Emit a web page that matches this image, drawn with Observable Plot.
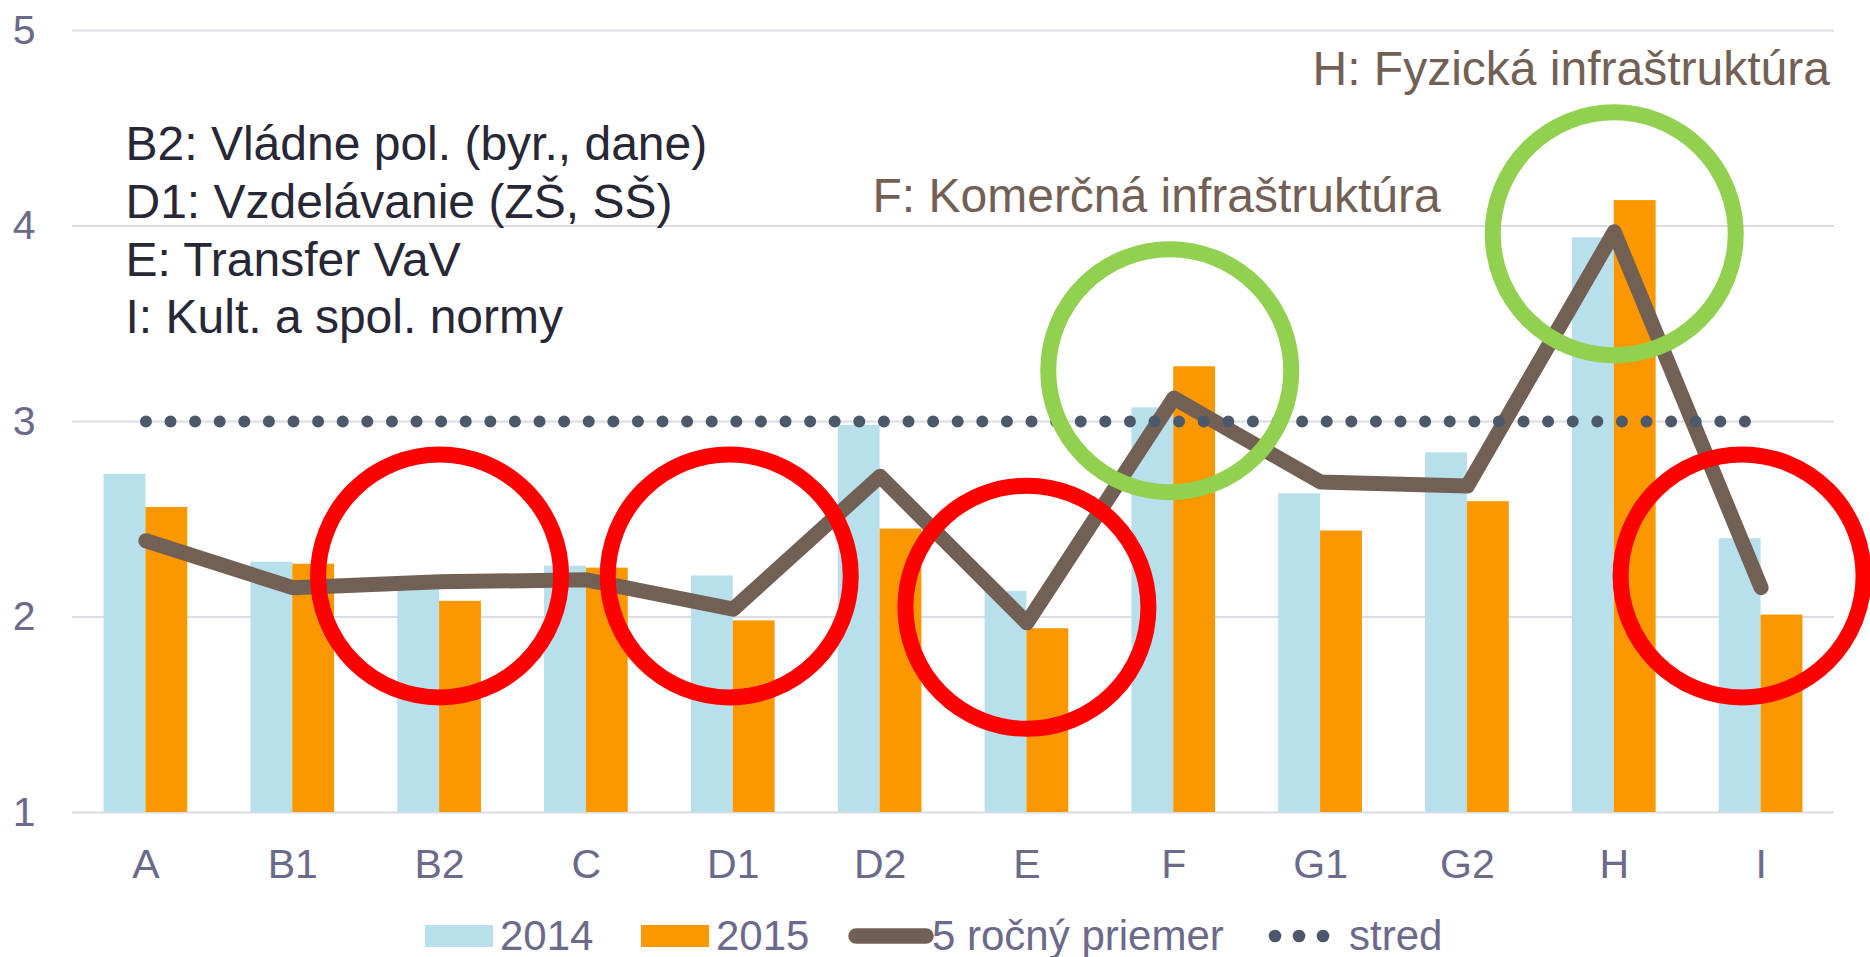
<!DOCTYPE html>
<html>
<head>
<meta charset="utf-8">
<script src="https://cdn.jsdelivr.net/npm/d3@7"></script>
<script src="https://cdn.jsdelivr.net/npm/@observablehq/plot@0.6"></script>
<style>
  html, body { margin: 0; padding: 0; background: #ffffff; overflow: hidden; }
  body { width: 1870px; height: 957px; font-family: "Liberation Sans", Arial, sans-serif; }
  #legend { position: relative; width: 1870px; height: 52px; }
  #legend .t { position: absolute; top: 10px; line-height: 42px; font-size: 42px; color: #6b6a8a; white-space: nowrap; }
  #legend svg { position: absolute; }
</style>
</head>
<body>
<div id="chart"></div>
<div id="legend"></div>
<script>
// ---- data ----
const categories = ["A", "B1", "B2", "C", "D1", "D2", "E", "F", "G1", "G2", "H", "I"];
const series2014 = [2.73, 2.28, 2.17, 2.26, 2.21, 2.98, 2.13, 3.07, 2.63, 2.84, 3.94, 2.40];
const series2015 = [2.56, 2.27, 2.08, 2.25, 1.98, 2.45, 1.94, 3.28, 2.44, 2.59, 4.13, 2.01];
const avg5 = [2.39, 2.15, 2.18, 2.19, 2.04, 2.72, 1.97, 3.12, 2.69, 2.67, 3.97, 2.15];
const stred = [3, 3, 3, 3, 3, 3, 3, 3, 3, 3, 3, 3];
const yTicks = [1, 2, 3, 4, 5];
const seriesNames = ["2014", "2015", "5 ročný priemer", "stred"];

// highlighted categories (circles): category and centre value
const redCats = ["B2", "E"];
const redVals = [2.21, 2.05];
const redCatsD1 = ["D1"];
const redValsD1 = [2.21];
const redCatsI = ["I"];
const redValsI = [2.21];
const greenCatsF = ["F"];
const greenValsF = [3.26];
const greenCatsH = ["H"];
const greenValsH = [3.96];

const noteLeft = "B2: Vládne pol. (byr., dane)\nD1: Vzdelávanie (ZŠ, SŠ)\nE: Transfer VaV\nI: Kult. a spol. normy";
const noteF = "F: Komerčná infraštruktúra";
const noteH = "H: Fyzická infraštruktúra";

// ---- table built from the arrays ----
const rows = categories.map((c, i) => ({cat: c, v14: series2014[i], v15: series2015[i], avg: avg5[i], mid: stred[i]}));
const circ = (cats, vals) => cats.map((c, i) => ({cat: c, v: vals[i]}));

const C14 = "#b8dfec", C15 = "#fb9800", CLINE = "#736055", CDOT = "#4b596a";
const W = 1870, H = 905, ML = 72, MR = 36, MT = 30, MB = 93;
const bandPad = 0.43;
const bw = (W - ML - MR) / categories.length * (1 - bandPad);
const half = bw / 2;
const ring = {r: 121.5, strokeWidth: 16, fill: "none"};

const chart = Plot.plot({
  width: W,
  height: H,
  marginLeft: ML,
  marginRight: MR,
  marginTop: MT,
  marginBottom: MB,
  style: {fontFamily: "Liberation Sans, Arial, sans-serif", fontSize: "41px", color: "#6b6a8a", background: "#ffffff", overflow: "visible"},
  x: {type: "band", domain: categories, paddingInner: bandPad, paddingOuter: bandPad / 2, round: false, tickSize: 0, tickPadding: 36, label: null},
  y: {domain: [1, 5], ticks: yTicks, tickFormat: d => String(d), tickSize: 0, tickPadding: 37, label: null},
  marks: [
    Plot.ruleY(yTicks, {stroke: "#dcdce4", strokeWidth: 2}),
    Plot.barY(rows, {x: "cat", y1: () => 1, y2: "v14", fill: C14, insetLeft: 0, insetRight: half}),
    Plot.barY(rows, {x: "cat", y1: () => 1, y2: "v15", fill: C15, insetLeft: half, insetRight: 0}),
    Plot.line(rows, {x: "cat", y: "avg", stroke: CLINE, strokeWidth: 15, strokeLinecap: "round", strokeLinejoin: "round"}),
    Plot.line(rows, {x: "cat", y: "mid", stroke: CDOT, strokeWidth: 12, strokeDasharray: "0 24.6", strokeLinecap: "round"}),
    Plot.dot(circ(redCats, redVals), {x: "cat", y: "v", ...ring, stroke: "#ff0000"}),
    Plot.dot(circ(redCatsD1, redValsD1), {x: "cat", y: "v", ...ring, dx: -4, stroke: "#ff0000"}),
    Plot.dot(circ(redCatsI, redValsI), {x: "cat", y: "v", ...ring, dx: -19, stroke: "#ff0000"}),
    Plot.dot(circ(greenCatsF, greenValsF), {x: "cat", y: "v", ...ring, dx: -4, stroke: "#92d050"}),
    Plot.dot(circ(greenCatsH, greenValsH), {x: "cat", y: "v", ...ring, stroke: "#92d050"}),
    Plot.text([noteLeft], {frameAnchor: "top-left", textAnchor: "start", lineAnchor: "top", lineHeight: 1.2, dx: 53, dy: 89, fontSize: 48, fill: "#272736"}),
    Plot.text([noteF], {frameAnchor: "top-left", textAnchor: "start", lineAnchor: "top", dx: 800, dy: 147, fontSize: 48, fill: CLINE}),
    Plot.text([noteH], {frameAnchor: "top-left", textAnchor: "start", lineAnchor: "top", dx: 1240, dy: 20, fontSize: 48, fill: CLINE})
  ]
});
document.getElementById("chart").appendChild(chart);

// ---- legend below the chart ----
const lg = d3.select("#legend");
function swatchRect(left, color) {
  const s = lg.append("svg").style("left", left + "px").style("top", "20px").attr("width", 68).attr("height", 22);
  s.append("rect").attr("width", 68).attr("height", 22).attr("fill", color);
}
function label(left, text) {
  lg.append("span").attr("class", "t").style("left", left + "px").text(text);
}
swatchRect(425, C14); label(500, seriesNames[0]);
swatchRect(641, C15); label(716, seriesNames[1]);
{
  const s = lg.append("svg").style("left", "848px").style("top", "23px").attr("width", 86).attr("height", 16);
  s.append("line").attr("x1", 8).attr("x2", 78).attr("y1", 8).attr("y2", 8)
    .attr("stroke", CLINE).attr("stroke-width", 15.5).attr("stroke-linecap", "round");
}
label(932, seriesNames[2]);
{
  const s = lg.append("svg").style("left", "1267px").style("top", "24px").attr("width", 64).attr("height", 14);
  [8, 32, 56].forEach(cx => s.append("circle").attr("cx", cx).attr("cy", 7).attr("r", 6.3).attr("fill", CDOT));
}
label(1349, seriesNames[3]);
</script>
</body>
</html>
